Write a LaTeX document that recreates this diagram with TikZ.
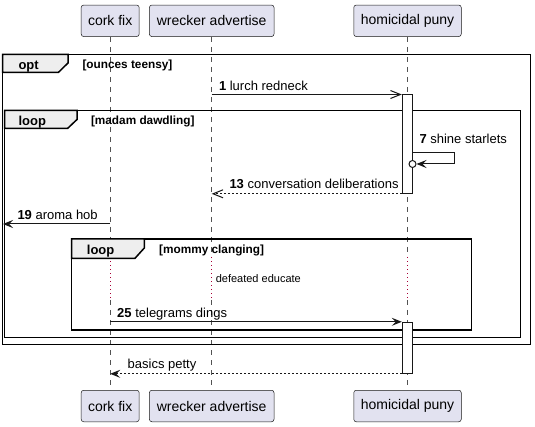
\documentclass[tikz,border=0pt]{standalone}
\usepackage{fontspec}
\setmainfont{Liberation Sans}
\usetikzlibrary{arrows.meta}
\definecolor{partfill}{HTML}{E2E2F0}
\definecolor{partline}{HTML}{181818}
\definecolor{tabfill}{HTML}{EEEEEE}
\definecolor{delaycol}{HTML}{A80036}
\begin{document}
\begin{tikzpicture}[x=1pt,y=-1pt,
 part/.style={draw=partline, fill=partfill, rounded corners=2.5pt, line width=0.5pt, minimum height=31.5pt, inner sep=0pt, font=\fontsize{14}{16}\selectfont},
 lifeline/.style={draw=partline!75, dash pattern=on 5pt off 5pt, line width=0.6pt},
 delay/.style={draw=delaycol, dash pattern=on 1pt off 3pt, line width=0.9pt},
 frame/.style={draw=black, line width=1.5pt},
 tab/.style={draw=black, fill=tabfill, line width=1.5pt},
 tabtext/.style={font=\bfseries\fontsize{13}{15}\selectfont, inner sep=0pt, anchor=base west},
 guard/.style={font=\bfseries\fontsize{11.8}{13}\selectfont, inner sep=0pt, anchor=base west},
 msgtext/.style={font=\fontsize{13}{15}\selectfont, inner sep=0pt, anchor=base west},
 notetext/.style={font=\fontsize{11}{13}\selectfont, inner sep=0pt, anchor=base west},
 msg/.style={draw=partline, line width=1pt},
 ret/.style={msg, dash pattern=on 2pt off 2pt},
 fhead/.style={-{Stealth[length=10pt,width=8pt,inset=4pt]}},
 ohead/.style={-{Straight Barb[length=10pt,width=8pt]}},
 act/.style={draw=partline, fill=white, line width=1pt, minimum width=10.4pt, inner sep=0pt},
 endcirc/.style={circle, draw=partline, fill=white, line width=1pt, minimum size=7pt, inner sep=0pt}
]
\useasboundingbox (0,0) rectangle (535,427);

% participants
\node[part, minimum width=58pt] (cf) at (110.2,20.8) {cork fix};
\node[part, minimum width=124.6pt] (wa) at (211.7,20.8) {wrecker advertise};
\node[part, minimum width=107.5pt] (hp) at (407.5,20.8) {homicidal puny};
\node[part, minimum width=58pt] (cfb) at (110.2,406) {cork fix};
\node[part, minimum width=124.6pt] (wab) at (211.7,406) {wrecker advertise};
\node[part, minimum width=107.5pt] (hpb) at (407.5,406) {homicidal puny};

% delay limits
\coordinate (dtop) at (0,257.5);
\coordinate (dbot) at (0,300);

% lifelines
\foreach \t/\b in {cf/cfb, wa/wab, hp/hpb}{
  \draw[lifeline] (\t.south) -- (\t.south |- dtop);
  \draw[delay] (\t.south |- dtop) -- (\t.south |- dbot);
  \draw[lifeline] (\t.south |- dbot) -- (\b.north);
}

% frames
\draw[frame] (2.7,54.3) rectangle (530.3,344.3);
\draw[tab] (2.7,54.3) -- (68,54.3) -- (68,63) -- (58.5,72.3) -- (2.7,72.3) -- cycle;
\node[tabtext] (optlbl) at (18.3,69.3) {opt};
\node[guard] (optg) at (82.3,68.3) {[ounces teensy]};

\draw[frame] (4.7,110.5) rectangle (520.3,337.5);
\draw[tab] (4.7,110.5) -- (77,110.5) -- (77,119.5) -- (67.5,128.5) -- (4.7,128.5) -- cycle;
\node[tabtext] (loop1lbl) at (18.3,125.8) {loop};
\node[guard] (loop1g) at (90.8,125) {[madam dawdling]};

\draw[frame] (71.7,239) rectangle (471.3,330);
\draw[tab] (71.7,239) -- (144.3,239) -- (144.3,248) -- (135,258.3) -- (71.7,258.3) -- cycle;
\node[tabtext] (loop2lbl) at (86.7,254.3) {loop};
\node[guard] (loop2g) at (159,253.5) {[mommy clanging]};

\node[notetext] (delaytxt) at (215.6,283) {defeated educate};

% activations
\node[act, minimum height=98.3pt] (act1) at (407.5,144.15) {};
\node[act, minimum height=51pt] (act2) at (407.5,347.8) {};

% message 1
\draw[msg, ohead] (wa.south |- act1.north) -- (act1.north west);
\node[msgtext] (m1) at (218.8,90.5) {\textbf{1} lurch redneck};

% message 7 (self)
\node[endcirc] (c7) at (412.5,164) {};
\coordinate (s7a) at (412.7,152.3);
\coordinate (s7b) at (454,152.3);
\draw[msg, fhead] (act1.east |- s7a) -- (s7b) -- (s7b |- c7) -- (c7.east);
\node[msgtext] (m7) at (419.3,143.5) {\textbf{7} shine starlets};

% message 13
\draw[ret, ohead] (act1.south west) -- (wa.south |- act1.south);
\node[msgtext] (m13) at (229.3,188.8) {\textbf{13} conversation deliberations};

% message 19
\coordinate (m19end) at (3,224);
\draw[msg, fhead] (cf.south |- m19end) -- (m19end);
\node[msgtext] (m19) at (17.3,219.5) {\textbf{19} aroma hob};

% message 25
\draw[msg, fhead] (cf.south |- act2.north) -- (act2.north west);
\node[msgtext] (m25) at (117,317.8) {\textbf{25} telegrams dings};

% return
\draw[ret, fhead] (act2.south west) -- (cf.south |- act2.south);
\node[msgtext] (mret) at (127.5,368.8) {basics petty};

\end{tikzpicture}
\end{document}
